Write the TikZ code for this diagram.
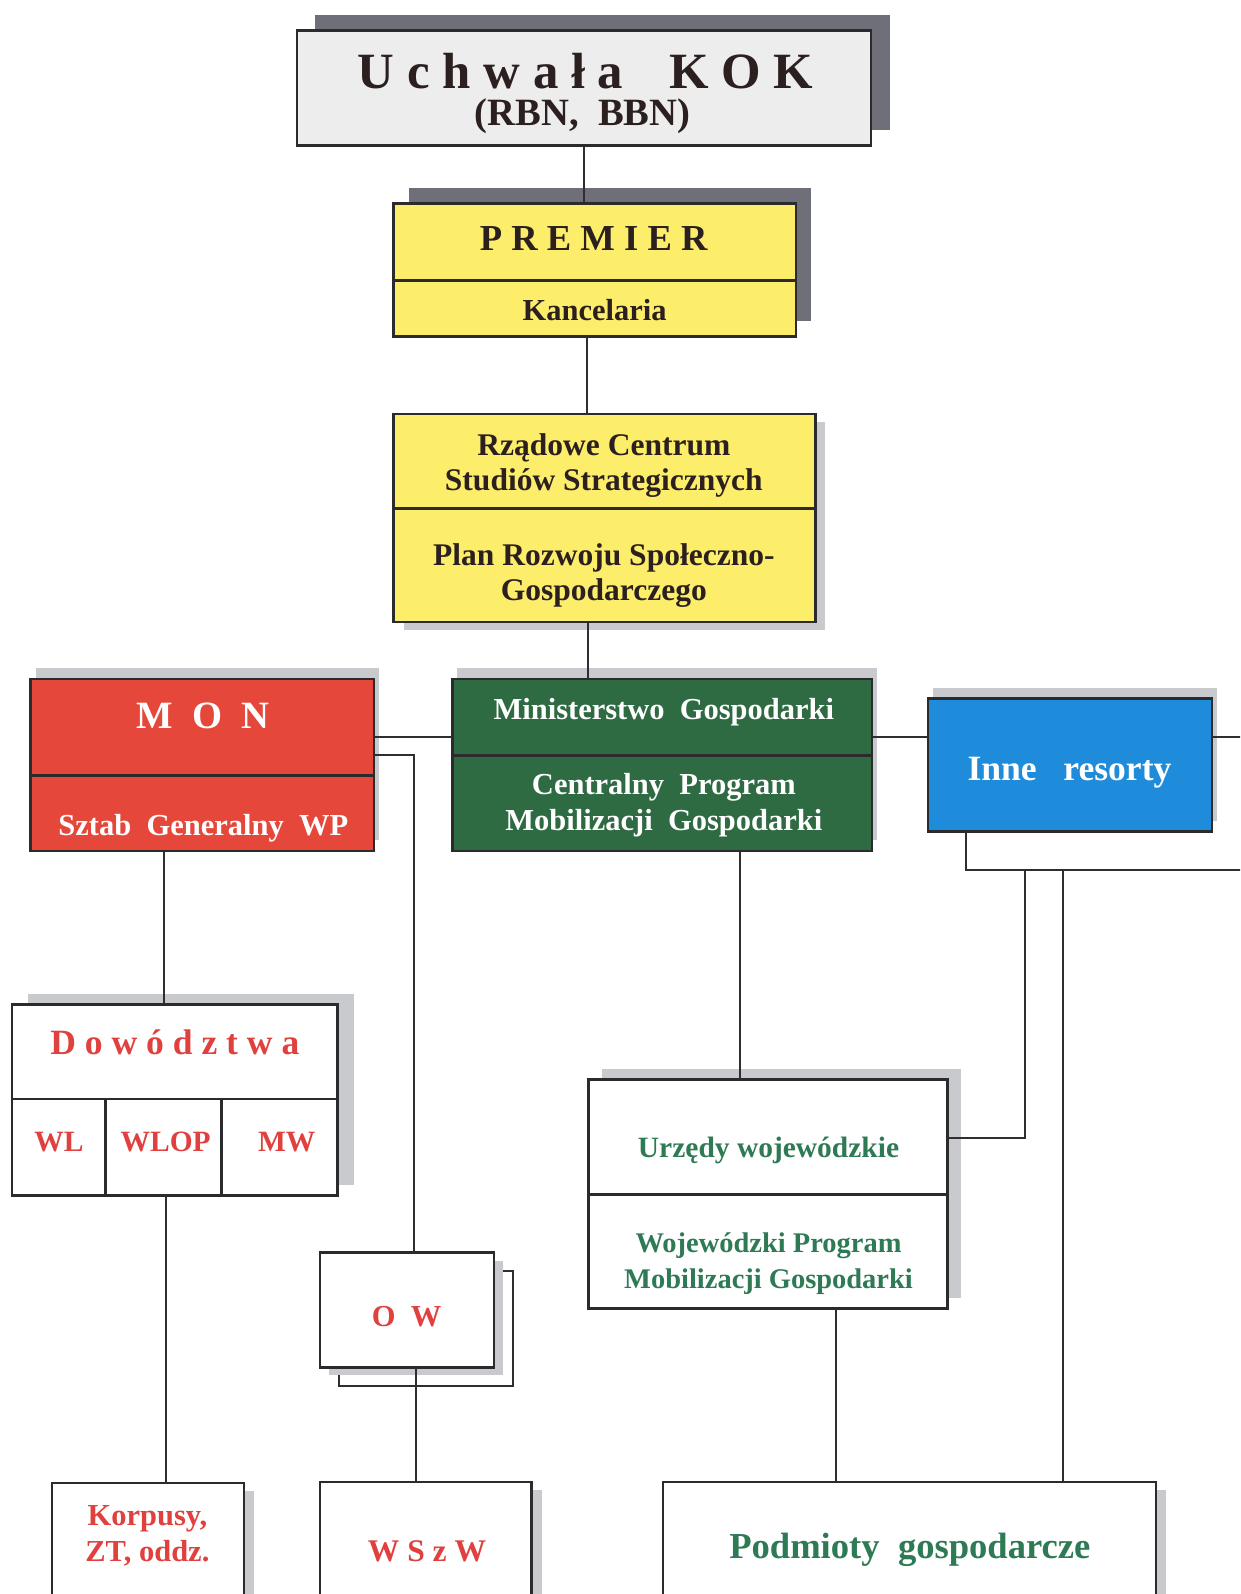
\documentclass[tikz,border=0pt]{standalone}
\usepackage{fontspec}
\setmainfont{Liberation Serif}
\usetikzlibrary{calc,shadows}
\definecolor{bordc}{HTML}{2B2B2E}
\definecolor{linec}{HTML}{2E2E32}
\definecolor{shdark}{HTML}{6E6F78}
\definecolor{shlight}{HTML}{C9CACE}
\definecolor{kokfill}{HTML}{EDEDED}
\definecolor{yel}{HTML}{FCEE6A}
\definecolor{monred}{HTML}{E5483B}
\definecolor{mggreen}{HTML}{2F6B42}
\definecolor{inneblue}{HTML}{1F8CDB}
\definecolor{darktxt}{HTML}{2B1F1F}
\definecolor{redtxt}{HTML}{E0413F}
\definecolor{greentxt}{HTML}{2E7A55}
\tikzset{
  box/.style={draw=bordc, line width=2.4pt, inner sep=0pt},
  conn/.style={draw=linec, line width=2pt},
  dshad/.style 2 args={general shadow={fill=shdark, shadow xshift=#1, shadow yshift=#2}},
  lshad/.style 2 args={general shadow={fill=shlight, shadow xshift=#1, shadow yshift=#2}},
  txt/.style={inner sep=0pt, align=center, font=\bfseries, yshift=-3pt},
  fs/.style 2 args={font=\fontsize{#1}{#2}\selectfont\bfseries}
}
\begin{document}
\begin{tikzpicture}[x=1pt,y=-1pt]
\useasboundingbox (0,0) rectangle (1220,1568);
\clip (0,0) rectangle (1220,1568);
\fill[white] (0,0) rectangle (1220,1568);

% ---------- boxes ----------
\node[box, fill=kokfill, dshad={18pt}{15pt}, minimum width=565pt, minimum height=113pt] (kok) at (574.5,86.5) {};
\node[box, fill=yel, dshad={15pt}{15pt}, minimum width=396pt, minimum height=131pt] (prem) at (585,265.5) {};
\node[box, fill=yel, lshad={10pt}{-8pt}, minimum width=415pt, minimum height=205pt] (rcss) at (594.5,509.5) {};
\node[box, fill=monred, lshad={5pt}{11pt}, minimum width=338pt, minimum height=169pt] (mon) at (199,752.5) {};
\node[box, fill=mggreen, lshad={5pt}{11pt}, minimum width=413pt, minimum height=169pt] (mg) at (651.5,752.5) {};
\node[box, fill=inneblue, lshad={5pt}{10pt}, minimum width=279pt, minimum height=131pt] (inne) at (1052.5,752.5) {};
\node[box, fill=white, lshad={16pt}{10pt}, minimum width=320pt, minimum height=188pt] (dow) at (172,1082) {};
\draw[line width=2pt, draw=linec, fill=white] (333,1250) rectangle (505,1363);
\node[box, fill=white, lshad={9pt}{-8pt}, minimum width=171pt, minimum height=113pt] (ow) at (400.5,1288.5) {};
\node[box, fill=white, lshad={13pt}{10pt}, minimum width=353pt, minimum height=225pt] (urz) at (755.5,1174.5) {};
\node[box, fill=white, lshad={10pt}{-8pt}, minimum width=189pt, minimum height=141pt] (korp) at (145.5,1529.5) {};
\node[box, fill=white, lshad={10pt}{-8pt}, minimum width=208pt, minimum height=142pt] (wszw) at (419,1529) {};
\node[box, fill=white, lshad={10pt}{-8pt}, minimum width=485pt, minimum height=142pt] (podm) at (894.5,1529) {};

% ---------- dividers ----------
\draw[box] ($(prem.west)+(0,10.5)$) -- ($(prem.east)+(0,10.5)$);
\draw[box] ($(rcss.west)+(0,-9.5)$) -- ($(rcss.east)+(0,-9.5)$);
\draw[box] ($(mon.west)+(0,10.5)$) -- ($(mon.east)+(0,10.5)$);
\draw[box] ($(mg.west)+(0,-9.5)$) -- ($(mg.east)+(0,-9.5)$);
\draw[box] ($(dow.west)+(0,-1)$) -- ($(dow.east)+(0,-1)$);
\draw[box] ($(dow.south west)+(93,0)$) -- ($(dow.west)+(93,-1)$);
\draw[box] ($(dow.south west)+(207,0)$) -- ($(dow.west)+(207,-1)$);
\draw[box] ($(urz.west)+(0,0.5)$) -- ($(urz.east)+(0,0.5)$);

% ---------- texts ----------
\node[txt, fs={50}{60}, text=darktxt] (kokA) at (576,67) {U c h w a ł a\hspace{0.9em}K O K};
\node[txt, fs={38}{44}, text=darktxt] (kokB) at (573,111) {(RBN,\ \ BBN)};
\node[txt, fs={36}{42}, text=darktxt] (premA) at (584,232) {P R E M I E R};
\node[txt, fs={30}{36}, text=darktxt] (premB) at (585,302) {Kancelaria};
\node[txt, fs={31}{35}, text=darktxt] (rcssA) at (594,455) {Rządowe Centrum\\Studiów Strategicznych};
\node[txt, fs={31}{35}, text=darktxt] (rcssB) at (594,563) {Plan Rozwoju Społeczno-\\Gospodarczego};
\node[txt, fs={38}{44}, text=white] (monA) at (200,701) {M\ \ O\ \ N};
\node[txt, fs={30}{36}, text=white] (monB) at (200,812) {Sztab\ \ Generalny\ \ WP};
\node[txt, fs={30}{36}, text=white] (mgA) at (653,698) {Ministerstwo\ \ Gospodarki};
\node[txt, fs={30}{35}, text=white] (mgB) at (653,789) {Centralny\ \ Program\\Mobilizacji\ \ Gospodarki};
\node[txt, fs={35}{40}, text=white] (inneA) at (1052,757) {Inne\ \ \ resorty};
\node[txt, fs={35}{40}, text=redtxt] (dowA) at (172,1022) {D\ o\ w\ ó\ d\ z\ t\ w\ a};
\node[txt, fs={29}{34}, text=redtxt] (wlA) at (58,1120) {WL};
\node[txt, fs={29}{34}, text=redtxt] (wlopA) at (163,1120) {WLOP};
\node[txt, fs={29}{34}, text=redtxt] (mwA) at (282,1120) {MW};
\node[txt, fs={30}{36}, text=redtxt] (owA) at (400,1292) {O\ \ W};
\node[txt, fs={30}{35}, text=redtxt] (korpA) at (145,1508) {Korpusy,\\ZT, oddz.};
\node[txt, fs={31}{36}, text=redtxt] (wszwA) at (420,1523) {W S z W};
\node[txt, fs={29}{34}, text=greentxt] (urzA) at (756,1129) {Urzędy wojewódzkie};
\node[txt, fs={28}{35}, text=greentxt] (urzB) at (756,1240) {Wojewódzki Program\\Mobilizacji Gospodarki};
\node[txt, fs={36}{42}, text=greentxt] (podmA) at (895,1522) {Podmioty\ \ gospodarcze};

% ---------- connectors ----------
\coordinate (edgeA) at (1225,725);
\coordinate (busR) at (1225,856);
\coordinate (busA) at (1008,856);
\coordinate (busB) at (1046,856);
\draw[conn] (kok.south) -- (kok.south |- prem.north);
\draw[conn] ($(prem.south)+(-8,0)$) -- ($(rcss.north)+(-17.5,0)$);
\draw[conn] ($(rcss.south)+(-16.5,0)$) -- ($(mg.north)+(-73.5,0)$);
\draw[conn] ($(mon.east)+(0,-27.5)$) -- ($(mg.west)+(0,-27.5)$);
\draw[conn] ($(mg.east)+(0,-27.5)$) -- ($(inne.west)+(0,-27.5)$);
\draw[conn] ($(inne.east)+(0,-27.5)$) -- (edgeA);
\draw[conn] ($(mon.east)+(0,-9.5)$) -| ($(ow.north)+(6.5,0)$);
\draw[conn] ($(mon.south)+(-38,0)$) -- ($(dow.north)+(-11,0)$);
\draw[conn] ($(dow.south)+(-9,0)$) -- ($(korp.north)+(17.5,0)$);
\draw[conn] ($(ow.south)+(8.5,0)$) -- ($(wszw.north)+(-10,0)$);
\draw[conn] ($(mg.south)+(76.5,0)$) -- ($(urz.north)+(-27.5,0)$);
\draw[conn] ($(urz.south)+(66.5,0)$) -- ($(podm.north)+(-72.5,0)$);
\draw[conn] ($(inne.south)+(-102.5,0)$) |- (busR);
\draw[conn] ($(urz.east)+(0,-55.5)$) -| (busA);
\draw[conn] (busB) -- ($(podm.north)+(151.5,0)$);
\end{tikzpicture}
\end{document}
